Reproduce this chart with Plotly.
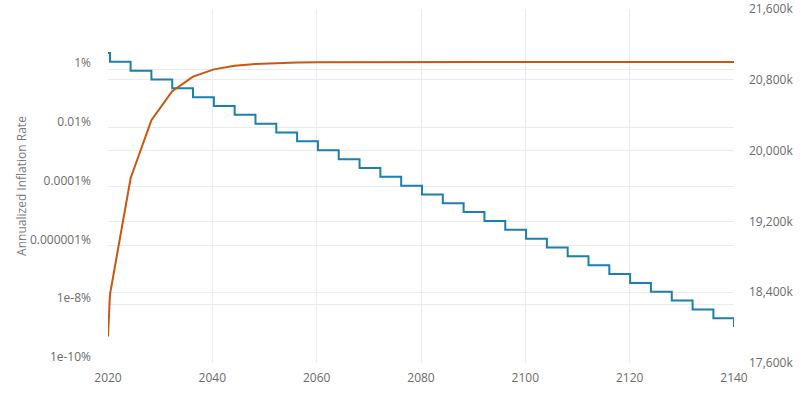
import plotly.graph_objects as go

# halving dates (decimal years)
halving_years = [2020.38, 2024.33, 2028.32, 2032.31, 2036.30, 2040.29, 2044.28, 2048.27,
                 2052.26, 2056.25, 2060.24, 2064.23, 2068.22, 2072.21, 2076.20, 2080.19,
                 2084.18, 2088.17, 2092.16, 2096.15, 2100.14, 2104.13, 2108.12, 2112.11,
                 2116.10, 2120.09, 2124.08, 2128.07, 2132.06, 2136.05]

rate_years = [2020.0] + halving_years + [2140.0]
# annualized inflation, in percent
rate_pct = [3.6, 1.79, 0.895, 0.447, 0.224, 0.112, 0.056, 0.028, 0.014, 0.007,
            0.0035, 0.00175, 8.7e-4, 4.37e-4, 2.18e-4, 1.09e-4, 5.46e-5, 2.73e-5,
            1.37e-5, 6.83e-6, 3.41e-6, 1.71e-6, 8.5e-7, 4.27e-7, 2.13e-7, 1.07e-7,
            5.33e-8, 2.67e-8, 1.33e-8, 6.67e-9, 3.33e-9, 1.67e-9]

supply_years = [2020.0] + halving_years + [2140.0]
# supply, thousands of coins
supply_k = [17900, 18375, 19687.5, 20343.75, 20671.88, 20835.94, 20917.97, 20958.98,
            20979.49, 20989.75, 20994.87, 20997.44, 20998.72, 20999.36, 20999.68,
            20999.84, 20999.92, 20999.96, 20999.98, 20999.99, 21000, 21000, 21000,
            21000, 21000, 21000, 21000, 21000, 21000, 21000, 21000, 21000]

rate_ticks = [1, 0.01, 1e-4, 1e-6, 1e-8, 1e-10]
rate_tick_text = ["1%", "0.01%", "0.0001%", "0.000001%", "1e-8%", "1e-10%"]

BLUE = "#1b80ae"
ORANGE = "#c9570f"
GRID = "#ebebeb"
TEXT = "#6b6b6b"

fig = go.Figure()
fig.add_trace(go.Scatter(
    x=rate_years, y=rate_pct, mode="lines", line=dict(color=BLUE, width=2, shape="hv"),
    name="Annualized Inflation Rate", yaxis="y",
))
fig.add_trace(go.Scatter(
    x=supply_years, y=supply_k, mode="lines", line=dict(color=ORANGE, width=2),
    name="Supply", yaxis="y2",
))

fig.update_layout(
    width=800, height=400,
    margin=dict(l=108, r=66, t=9, b=37),
    paper_bgcolor="white", plot_bgcolor="white",
    font=dict(family="Open Sans", size=12, color=TEXT),
    showlegend=False,
    xaxis=dict(
        range=[2020, 2140], dtick=20, showgrid=True, gridcolor=GRID,
        zeroline=False, showline=False, ticks="", ticklabelstandoff=6,
        automargin=False,
    ),
    yaxis=dict(
        type="log", range=[-10, 2.05], tickvals=rate_ticks, ticktext=rate_tick_text,
        showgrid=True, gridcolor=GRID, zeroline=False, showline=False, ticks="",
        ticklabelstandoff=16, ticklabelshift=-6, automargin=False,
        title=dict(text="Annualized Inflation Rate", font=dict(size=12, color="#7a7a7a"), standoff=0),
    ),
    yaxis2=dict(
        overlaying="y", side="right", range=[17600, 21600], dtick=800,
        tickformat=",", ticksuffix="k", showgrid=True, gridcolor=GRID,
        zeroline=False, showline=False, ticks="", ticklabelstandoff=14,
        automargin=False,
    ),
)

# drop the page's default body margin so the figure sits at the window corner
fig.write_html("out.html", config={"displayModeBar": False},
               post_script="document.body.style.margin = '0';")
